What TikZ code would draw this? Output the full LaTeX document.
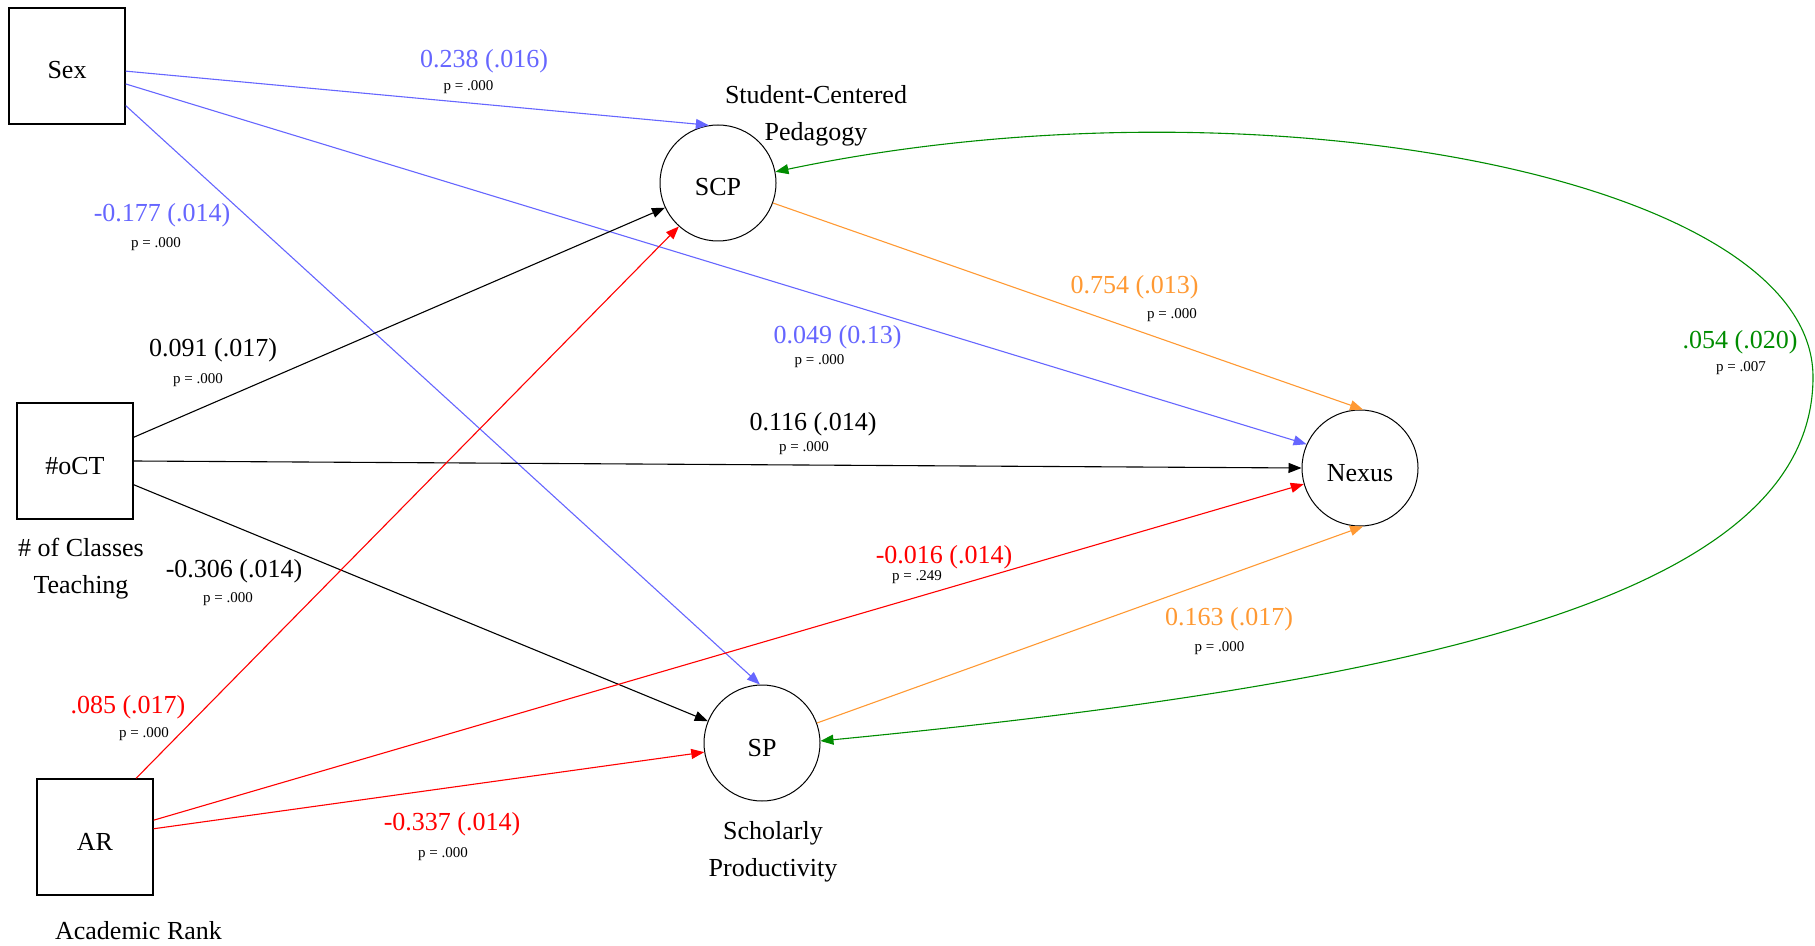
\documentclass[tikz,border=0pt]{standalone}
\usepackage{fontspec}
\setmainfont{Liberation Serif}
\usetikzlibrary{arrows.meta}
\definecolor{cblue}{RGB}{102,102,255}
\definecolor{corange}{RGB}{255,153,51}
\definecolor{cred}{RGB}{255,0,0}
\definecolor{cgreen}{RGB}{0,140,0}
\begin{document}
\begin{tikzpicture}[x=0.5pt,y=-0.5pt,
  box/.style={draw,line width=0.7pt,minimum size=58pt,inner sep=0pt,text height=1.3em,text depth=0pt,font=\fontsize{13}{15}\selectfont},
  latent/.style={draw,circle,line width=0.5pt,minimum size=58pt,inner sep=0pt,text height=1.3em,text depth=0pt,font=\fontsize{13}{15}\selectfont},
  lab/.style={inner sep=0pt,font=\fontsize{13}{15}\selectfont},
  pval/.style={inner sep=0pt,font=\fontsize{7.5}{9}\selectfont},
  captext/.style={inner sep=0pt,align=center,font=\fontsize{13}{18.5}\selectfont},
  conn/.style={line width=0.55pt,-{Triangle[length=6.5pt,width=5pt]}},
  bconn/.style={line width=0.55pt,{Triangle[length=6.5pt,width=5pt]}-{Triangle[length=6.5pt,width=5pt]}}
]
\useasboundingbox (0,0) rectangle (1815,946);

% observed variables
\node[box] (Sex) at (67,66) {Sex};
\node[box] (oCT) at (75,461) {\#oCT};
\node[box] (AR) at (95,837) {AR};
% latent / outcome variables
\node[latent] (SCP) at (718,183) {SCP};
\node[latent] (SP) at (762,743) {SP};
\node[latent] (Nexus) at (1360,468) {Nexus};

% captions
\node[captext] (capSCP) at (816,116) {Student-Centered\\Pedagogy};
\node[captext] (capOCT) at (81,569) {\# of Classes\\Teaching};
\node[captext] (capSP) at (773,852) {Scholarly\\Productivity};
\node[captext] (capAR) at (138.5,931) {Academic Rank};

% Sex paths
\draw[conn,cblue] (Sex.355) -- (SCP.99);
\draw[conn,cblue] (Sex.343) -- (Nexus.156);
\draw[conn,cblue] (Sex.326) -- (SP.92);
% #oCT paths
\draw[conn,black] (oCT.22) -- (SCP.205);
\draw[conn,black] (oCT.0) -- (Nexus.180);
\draw[conn,black] (oCT.338) -- (SP.158);
% AR paths
\draw[conn,cred] (AR.55) -- (SCP.228);
\draw[conn,cred] (AR.16) -- (Nexus.196);
\draw[conn,cred] (AR.8) -- (SP.189);
% mediators to Nexus
\draw[conn,corange] (SCP.340) -- (Nexus.87);
\draw[conn,corange] (SP.20) -- (Nexus.273);
% covariance
\coordinate (gR) at (1813,377);
\draw[bconn,cgreen] (SCP.11) .. controls (1250,72) and (1813,175) .. (gR)
  .. controls (1813,597) and (1419,683) .. (SP.2);

% coefficient labels
\node[lab,text=cblue] (l1) at (484,61) {0.238 (.016)};
\node[pval] (p1) at (468.5,87) {p = .000};
\node[lab,text=cblue] (l2) at (162,215) {-0.177 (.014)};
\node[pval] (p2) at (156,244) {p = .000};
\node[lab,text=corange] (l3) at (1134.5,287) {0.754 (.013)};
\node[pval] (p3) at (1172,315) {p = .000};
\node[lab,text=cblue] (l4) at (837.5,337.5) {0.049 (0.13)};
\node[pval] (p4) at (819.5,361) {p = .000};
\node[lab] (l5) at (213,350) {0.091 (.017)};
\node[pval] (p5) at (198,380) {p = .000};
\node[lab] (l6) at (813,424) {0.116 (.014)};
\node[pval] (p6) at (804,448) {p = .000};
\node[lab,text=cgreen] (l7) at (1740,342) {.054 (.020)};
\node[pval] (p7) at (1741,368) {p = .007};
\node[lab] (l8) at (234,571) {-0.306 (.014)};
\node[pval] (p8) at (228,599) {p = .000};
\node[lab,text=cred] (l9) at (944,557) {-0.016 (.014)};
\node[pval] (p9) at (917,577) {p = .249};
\node[lab,text=corange] (l10) at (1229,619) {0.163 (.017)};
\node[pval] (p10) at (1219.5,648) {p = .000};
\node[lab,text=cred] (l11) at (128,707) {.085 (.017)};
\node[pval] (p11) at (144,734) {p = .000};
\node[lab,text=cred] (l12) at (452,824) {-0.337 (.014)};
\node[pval] (p12) at (443,854) {p = .000};
\end{tikzpicture}
\end{document}
